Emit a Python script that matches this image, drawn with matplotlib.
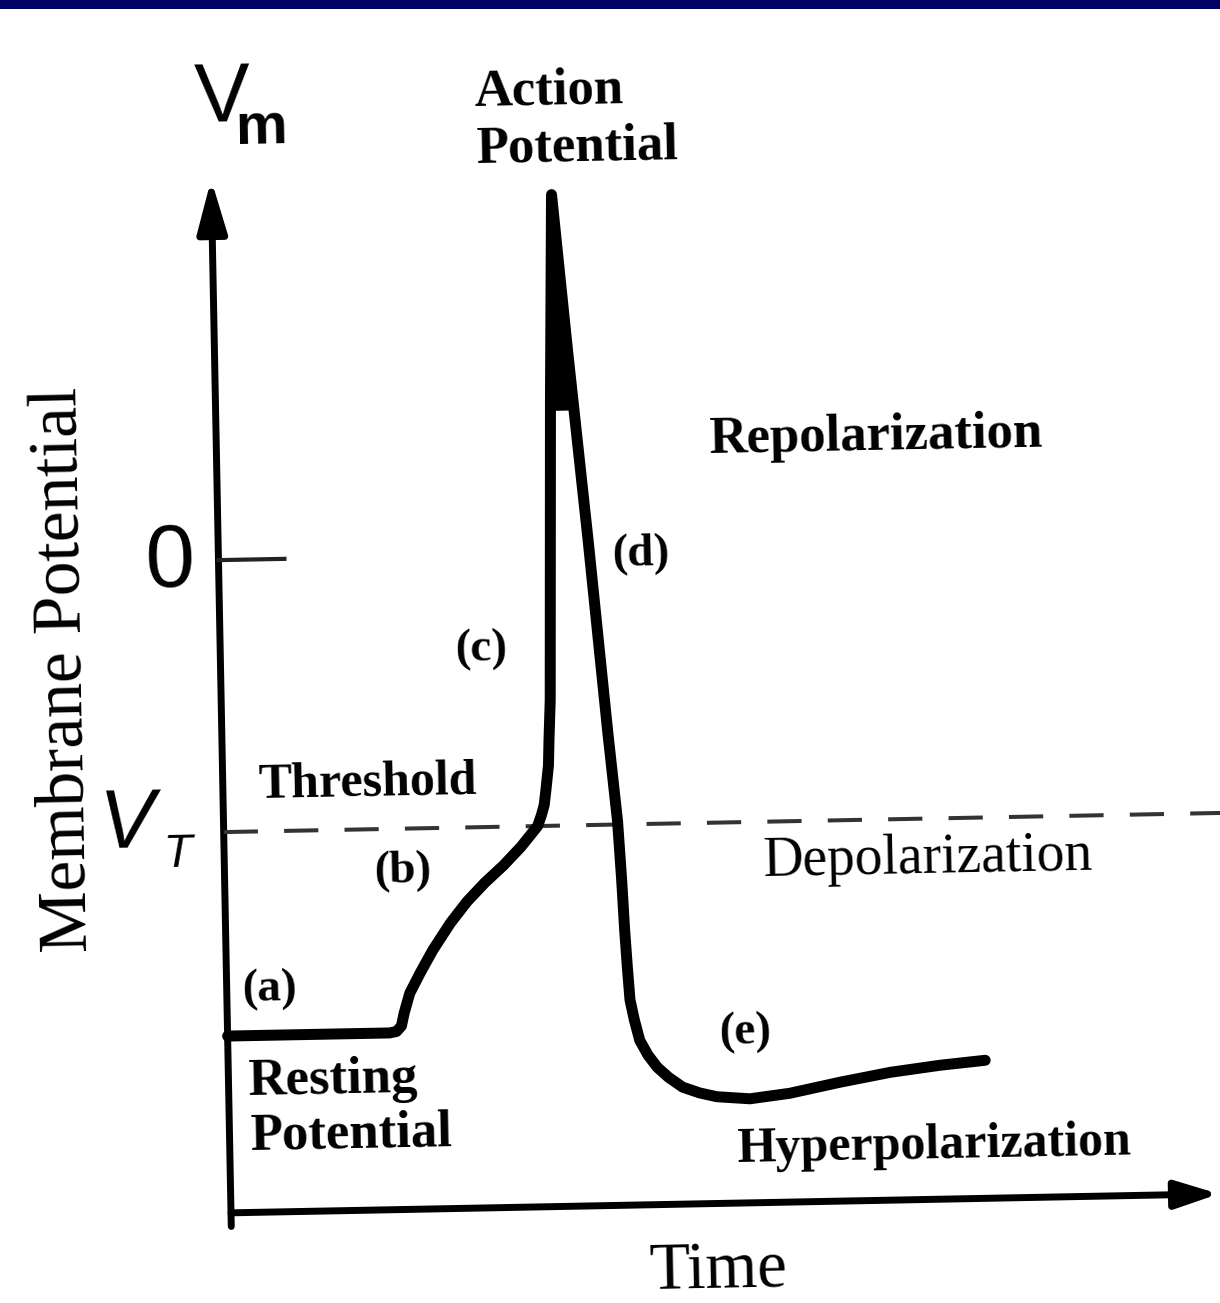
import numpy as np
import matplotlib.pyplot as plt
from matplotlib.patches import FancyArrowPatch, Rectangle
from matplotlib.transforms import Affine2D

# action potential trace: time (ms) and membrane potential (mV)
# resting -> slow depolarisation (b) -> upstroke (c) -> fall (d) -> undershoot (e)
t_ms = [0.00, 1.62, 1.69, 1.74, 1.77, 1.83, 1.94, 2.07, 2.25, 2.42, 2.60, 2.79, 2.97, 3.14,
        3.18, 3.21, 3.23, 3.26, 3.27, 3.29, 3.31, 3.35, 3.40,
        3.53, 3.70, 3.86, 3.94, 3.97, 3.99, 4.01, 4.03, 4.07, 4.12, 4.20, 4.29, 4.40,
        4.54, 4.71, 4.88, 5.21, 5.61, 6.12, 6.62, 7.12, 7.57]
v_mv = [-70.0, -70.0, -69.8, -69.0, -67.1, -64.2, -61.2, -57.9, -54.0, -50.9, -48.2, -45.7, -43.0, -40.0,
        -38.4, -36.9, -34.7, -31.1, -27.4, -21.5, -6.8, 22.6, 52.8,
        29.9, 1.8, -26.5, -39.5, -48.2, -55.5, -61.0, -65.8, -68.8, -71.8, -74.0, -75.8, -77.3,
        -78.8, -79.7, -80.3, -80.7, -80.0, -78.5, -77.2, -76.3, -75.7]

v_threshold = -40.0
v_zero = 0.0
v_floor = -96.0      # where the time axis sits
v_axis_top = 56.0
t_axis_end = 9.88
wedge_v = 21.0       # spike drawn solid above this level

fig = plt.figure(figsize=(12.2, 13.03), dpi=100)
ax = fig.add_axes([0, 0, 1, 1])
ax.set_xlim(-2.31, 9.89)
ax.set_ylim(-109.26, 82.35)
ax.axis('off')

# the whole drawing sits slightly rotated on the page
tilt_deg = 1.1
ox, oy = ax.transData.transform((0.0, v_floor))
tilt = ax.transData + Affine2D().rotate_deg_around(ox, oy, tilt_deg)

# axes with arrow heads
y_axis = FancyArrowPatch((0.0, v_floor - 2.0), (0.0, v_axis_top),
                         arrowstyle='-|>,head_length=1.6,head_width=0.45',
                         mutation_scale=20, lw=5, color='k',
                         shrinkA=0, shrinkB=0, transform=tilt)
x_axis = FancyArrowPatch((0.0, v_floor), (t_axis_end, v_floor),
                         arrowstyle='-|>,head_length=1.3,head_width=0.42',
                         mutation_scale=20, lw=5, color='k',
                         shrinkA=0, shrinkB=0, transform=tilt)
ax.add_patch(y_axis)
ax.add_patch(x_axis)

# zero tick and threshold level
ax.plot([0.0, 0.66], [v_zero, v_zero], color='#222222', lw=3, transform=tilt)
ax.plot([0.0, 10.4], [v_threshold, v_threshold], color='#333333', lw=2.9,
        ls=(0, (8.5, 6.5)), transform=tilt)

# membrane potential
t = np.array(t_ms)
v = np.array(v_mv)
ax.plot(t, v, color='k', lw=7.9, solid_joinstyle='round', solid_capstyle='round',
        transform=tilt)

# solid wedge at the top of the spike
i_pk = int(np.argmax(v))
i_min = i_pk + int(np.argmin(v[i_pk:]))
t_up = np.interp(wedge_v, v[:i_pk + 1], t[:i_pk + 1])
t_down = np.interp(wedge_v, v[i_pk:i_min + 1][::-1], t[i_pk:i_min + 1][::-1])
top = v > wedge_v
wedge_t = np.concatenate([[t_up], t[top], [t_down]])
wedge_v_pts = np.concatenate([[wedge_v], v[top], [wedge_v]])
ax.fill(wedge_t, wedge_v_pts, color='k', lw=0, transform=tilt)

serif = 'Liberation Serif'
sans = 'Liberation Sans'


def label(x, y, s, size, weight='bold', family=serif, ha='left', style='normal', rot=0.0):
    ax.text(x, y, s, fontsize=size, fontweight=weight, family=family, ha=ha, va='center',
            style=style, rotation=rot + tilt_deg, rotation_mode='anchor', transform=tilt)


label(2.65, 68.0, 'Action', 38)
label(2.65, 59.6, 'Potential', 38)
label(4.92, 16.3, 'Repolarization', 38)
label(3.94, -0.3, '(d)', 34)
label(2.35, -13.9, '(c)', 34)
label(0.35, -33.2, 'Threshold', 36)
label(1.50, -46.3, '(b)', 34)
label(5.39, -45.9, 'Depolarization', 40, weight='normal')
label(0.16, -63.3, '(a)', 34)
label(4.92, -70.9, '(e)', 34)
label(0.19, -76.8, 'Resting', 38)
label(0.20, -84.9, 'Potential', 38)
label(5.07, -88.2, 'Hyperpolarization', 36)
label(4.86, -106.1, 'Time', 48, weight='normal', ha='center')
label(-1.56, -15.7, 'Membrane Potential', 50, weight='normal', ha='center', rot=90)

# axis symbols
label(-0.49, -0.3, '0', 64, weight='normal', family=sans, ha='center')
label(0.12, 67.7, 'V', 60, weight='normal', family=sans, ha='center')
label(0.52, 63.4, 'm', 42, family=sans, ha='center')
label(-0.96, -38.7, 'V', 60, weight='normal', family=sans, ha='center', style='italic')
label(-0.46, -43.2, 'T', 34, weight='normal', family=sans, ha='center', style='italic')

# title bar strip along the top edge
fig.add_artist(Rectangle((0, 1 - 9 / 1303), 1, 9 / 1303, transform=fig.transFigure,
                         color='#000066', lw=0))

fig.savefig('out.png', dpi=100)
